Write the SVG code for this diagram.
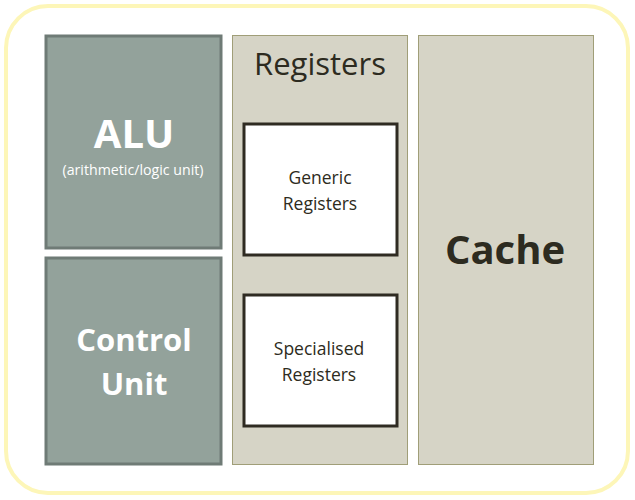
<svg xmlns="http://www.w3.org/2000/svg" width="635" height="500" viewBox="0 0 635 500">
<style>
.dark{fill:#93a29b;stroke:#6f7b76;stroke-width:3}
.col{fill:#d6d4c6;stroke:#a09e78;stroke-width:1}
.reg{fill:#ffffff;stroke:#2f2b22;stroke-width:3}
text{font-family:"Open Sans","Noto Sans",sans-serif;text-anchor:middle}
.w{fill:#ffffff;font-weight:bold}
.k{fill:#2d2b20}
.s{font-size:17.5px}
</style>
<rect x="6" y="6" width="622" height="487" rx="42" ry="42" fill="#ffffff" stroke="#fdf6b8" stroke-width="4"/>
<g id="alu">
<rect class="dark" x="46" y="36" width="175" height="212"/>
<text class="w" x="134" y="148" font-size="40">ALU</text>
<text x="133" y="175" font-size="14.2" fill="#ffffff">(arithmetic/logic unit)</text>
</g>
<g id="control">
<rect class="dark" x="46" y="258" width="175" height="206"/>
<text class="w" x="134" y="351" font-size="31">Control</text>
<text class="w" x="134" y="395" font-size="31">Unit</text>
</g>
<g id="registers">
<rect class="col" x="232.5" y="35.5" width="175" height="429"/>
<text class="k" x="320" y="75" font-size="31">Registers</text>
</g>
<g id="generic">
<rect class="reg" x="244" y="124" width="153" height="131"/>
<text class="k s" x="320" y="184">Generic</text>
<text class="k s" x="320" y="210">Registers</text>
</g>
<g id="specialised">
<rect class="reg" x="244" y="295" width="153" height="131"/>
<text class="k s" x="319" y="355">Specialised</text>
<text class="k s" x="319" y="381">Registers</text>
</g>
<g id="cache">
<rect class="col" x="418.5" y="35.5" width="175" height="429"/>
<text class="k" x="505" y="264" font-size="40" font-weight="bold">Cache</text>
</g>
<g id="connectors"/>
</svg>
